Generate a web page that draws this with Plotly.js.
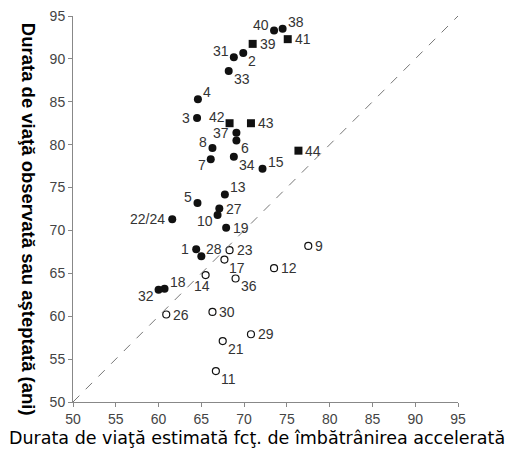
<!DOCTYPE html>
<html>
<head>
<meta charset="utf-8">
<script src="https://cdn.plot.ly/plotly-3.0.1.min.js"></script>
<style>
  body { margin: 0; background: #fff; }
  #grafic { width: 513px; height: 454px; }
</style>
</head>
<body>
<div id="grafic"></div>
<script>
// Puncte pline (cercuri)
const plinEtichete = ['40', '38', '31', '2', '33', '4', '3', '37', '6', '8', '7', '34', '15', '13', '5', '27', '10', '22/24', '19', '1', '28', '18', '32'];
const plinX = [73.5, 74.5, 68.8, 69.9, 68.2, 64.6, 64.5, 69.1, 69.1, 66.3, 66.1, 68.8, 72.15, 67.75, 64.55, 67.1, 66.9, 61.6, 67.9, 64.4, 65.0, 60.7, 60.0];
const plinY = [93.3, 93.5, 90.2, 90.7, 88.6, 85.3, 83.1, 81.4, 80.5, 79.6, 78.3, 78.6, 77.2, 74.2, 73.2, 72.55, 71.8, 71.3, 70.3, 67.8, 67.0, 63.2, 63.1];
const plinPoz = ['NW', 'NE', 'NW', 'SE', 'SE', 'NE', 'W', 'W', 'SE', 'NW', 'SW', 'SE', 'NE', 'NE', 'NW', 'E', 'SW', 'W', 'E', 'W', 'NE', 'NE', 'SW'];

// Pătrate
const patratEtichete = ['41', '39', '42', '43', '44'];
const patratX = [75.1, 71.0, 68.3, 70.8, 76.35];
const patratY = [92.3, 91.75, 82.5, 82.5, 79.3];
const patratPoz = ['E', 'E', 'NW', 'E', 'E'];

// Cercuri goale
const golEtichete = ['23', '17', '12', '9', '14', '36', '26', '30', '29', '21', '11'];
const golX = [68.3, 67.7, 73.5, 77.5, 65.5, 69.0, 60.9, 66.3, 70.8, 67.5, 66.7];
const golY = [67.7, 66.6, 65.6, 68.2, 64.8, 64.4, 60.2, 60.5, 57.9, 57.1, 53.6];
const golPoz = ['E', 'SE', 'E', 'E', 'S', 'SE', 'E', 'E', 'E', 'SE', 'SE'];

const domeniu = [50, 95];
const tickuri = [50, 55, 60, 65, 70, 75, 80, 85, 90, 95];

const fontEticheta = { family: 'Liberation Sans, Arial, sans-serif', size: 14, color: '#333' };

// cum se așază eticheta față de punct
const directii = {
    E:  { xanchor: 'left',   xshift: 5,  yshift: 0 },
    W:  { xanchor: 'right',  xshift: -5, yshift: 0 },
    NE: { xanchor: 'left',   xshift: 3,  yshift: 7 },
    NW: { xanchor: 'right',  xshift: -3, yshift: 6 },
    SE: { xanchor: 'left',   xshift: 3,  yshift: -8 },
    SW: { xanchor: 'right',  xshift: -3, yshift: -6 },
    S:  { xanchor: 'center', xshift: -4, yshift: -11 }
};

function etichete(texte, xs, ys, poz) {
    return texte.map((t, i) => Object.assign({
        text: t, x: xs[i], y: ys[i], xref: 'x', yref: 'y',
        yanchor: 'middle', showarrow: false, font: fontEticheta
    }, directii[poz[i]]));
}

const data = [
    {
        x: plinX, y: plinY, text: plinEtichete,
        type: 'scatter', mode: 'markers', cliponaxis: false,
        marker: { symbol: 'circle', size: 8, color: '#111' },
        hoverinfo: 'text'
    },
    {
        x: patratX, y: patratY, text: patratEtichete,
        type: 'scatter', mode: 'markers', cliponaxis: false,
        marker: { symbol: 'square', size: 8, color: '#111' },
        hoverinfo: 'text'
    },
    {
        x: golX, y: golY, text: golEtichete,
        type: 'scatter', mode: 'markers', cliponaxis: false,
        marker: { symbol: 'circle-open', size: 7, color: '#111', line: { width: 1.2 } },
        hoverinfo: 'text'
    }
];

const axa = {
    range: domeniu,
    tickvals: tickuri,
    ticks: 'outside',
    ticklen: 4,
    tickcolor: '#888',
    showline: true,
    linecolor: '#888',
    linewidth: 1,
    showgrid: false,
    zeroline: false,
    tickfont: { family: 'Liberation Sans, Arial, sans-serif', size: 14, color: '#444' }
};

const layout = {
    width: 513,
    height: 454,
    margin: { l: 73, r: 55, t: 16, b: 52, pad: 0 },
    paper_bgcolor: '#fff',
    plot_bgcolor: '#fff',
    showlegend: false,
    xaxis: Object.assign({}, axa),
    yaxis: Object.assign({}, axa),
    shapes: [
        {
            type: 'line', xref: 'x', yref: 'y',
            x0: domeniu[0], y0: domeniu[0], x1: domeniu[1], y1: domeniu[1],
            line: { color: '#777', width: 1, dash: 'dash' }
        }
    ],
    annotations: [
        {
            text: 'Durata de viaţă estimată fcţ. de îmbătrânirea accelerată',
            xref: 'paper', yref: 'paper', x: 0.477, y: -0.093,
            xanchor: 'center', yanchor: 'middle', showarrow: false,
            font: { family: 'DejaVu Sans, sans-serif', size: 17.5, color: '#000' }
        },
        {
            text: '<b>Durata de viaţă observată sau aşteptată (ani)</b>',
            xref: 'paper', yref: 'paper', x: -0.117, y: 0.472,
            xanchor: 'center', yanchor: 'middle', showarrow: false, textangle: 90,
            font: { family: 'Liberation Sans, Arial, sans-serif', size: 18.5, color: '#000' }
        }
    ].concat(
        etichete(plinEtichete, plinX, plinY, plinPoz),
        etichete(patratEtichete, patratX, patratY, patratPoz),
        etichete(golEtichete, golX, golY, golPoz)
    )
};

Plotly.newPlot('grafic', data, layout, { displayModeBar: false, staticPlot: true });
</script>
</body>
</html>
